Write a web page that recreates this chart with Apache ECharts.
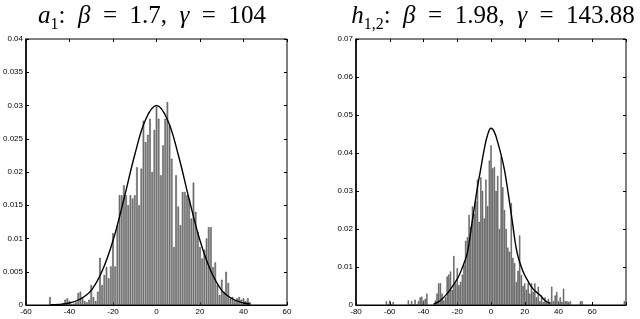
<!DOCTYPE html>
<html><head><meta charset="utf-8">
<script src="https://cdn.jsdelivr.net/npm/echarts@6/dist/echarts.min.js"></script>
<style>html,body{margin:0;padding:0;background:#fff}#c{width:640px;height:319px}</style>
</head><body><div id="c"></div>
<script>
// ---- Left panel (a1) histogram: bin centers and heights ----
const leftBins = [-49,-48,-47,-46,-45,-44,-43,-42,-41,-40,-39,-38,-37,-36,-35,-34,-33,-32,-31,-30,-29,-28,-27,-26,-25,-24,-23,-22,-21,-20,-19,-18,-17,-16,-15,-14,-13,-12,-11,-10,-9,-8,-7,-6,-5,-4,-3,-2,-1,0,1,2,3,4,5,6,7,8,9,10,11,12,13,14,15,16,17,18,19,20,21,22,23,24,25,26,27,28,29,30,31,32,33,34,35,36,37,38,39,40,41,42,43];
const leftHist = [0.0012,0,0,0,0,0,0.0003,0.0008,0.0010,0.0006,0,0.0002,0.0004,0.0018,0.0020,0.0010,0.0006,0.0004,0.0008,0.0030,0.0012,0.0006,0.0020,0.0071,0.0030,0.0045,0.0057,0.0040,0.0058,0.0108,0.0058,0.0120,0.0165,0.0165,0.0180,0.0165,0.0150,0.0165,0.0160,0.0165,0.0207,0.0150,0.0205,0.0277,0.0245,0.0256,0.0280,0.0200,0.0263,0.0298,0.0280,0.0195,0.0240,0.0280,0.0305,0.0270,0.0220,0.0087,0.0195,0.0148,0.0120,0.0170,0.0170,0.0165,0.0160,0.0130,0.0184,0.0140,0.0110,0.0087,0.0070,0.0083,0.0100,0.0117,0.0117,0.0057,0.0064,0.0030,0.0015,0.0038,0.0020,0.0050,0.0033,0.0010,0.0012,0.0008,0.0010,0.0012,0.0008,0.0010,0.0006,0.0010,0.0004];
// fitted curve
const leftCurveX = [-49,-45,-40,-35,-30,-25,-20,-15,-10,-5,0,5,10,15,20,25,30,35,40,43];
const leftCurveY = [0.00002,0.0001,0.0003,0.0009,0.0022,0.0051,0.0097,0.0159,0.0226,0.0279,0.0300,0.0279,0.0226,0.0159,0.0097,0.0051,0.0022,0.0009,0.0003,0.00015];

// ---- Right panel (h1,2) ----
const rightBins = [-62,-61,-60,-59,-58,-49,-48,-47,-46,-45,-44,-43,-42,-41,-40,-39,-38,-33,-32,-31,-30,-29,-28,-27,-26,-25,-24,-23,-22,-21,-20,-19,-18,-17,-16,-15,-14,-13,-12,-11,-10,-9,-8,-7,-6,-5,-4,-3,-2,-1,0,1,2,3,4,5,6,7,8,9,10,11,12,13,14,15,16,17,18,19,20,21,22,23,24,25,26,27,28,29,30,31,32,33,34,35,36,37,38,39,40,41,42,43,44,45,46,47,53,54,79];
const rightHist = [0.0010,0,0.0012,0,0.0008,0.0012,0,0.0010,0,0.0014,0,0.0010,0.0020,0.0022,0.0012,0.0016,0.0030,0.0012,0.0030,0.0057,0.0057,0.0030,0.0012,0.0020,0.0075,0.0080,0.0088,0.0040,0.0129,0.0057,0.0097,0.0052,0.0061,0.0080,0.0106,0.0169,0.0178,0.0237,0.0205,0.0259,0.0240,0.0273,0.0330,0.0219,0.0336,0.0300,0.0228,0.0330,0.0260,0.0380,0.0420,0.0360,0.0363,0.0300,0.0340,0.0200,0.0390,0.0310,0.0250,0.0200,0.0151,0.0140,0.0268,0.0124,0.0110,0.0060,0.0090,0.0183,0.0079,0.0050,0.0057,0.0040,0.0057,0.0030,0.0057,0.0035,0.0057,0.0020,0.0048,0.0010,0.0025,0.0008,0.0020,0.0010,0.0016,0.0008,0.0048,0.0010,0.0025,0.0034,0.0010,0.0020,0.0008,0.0043,0.0010,0.0010,0.0008,0.0010,0.0010,0.0010,0.0010];
const rightCurveX = [-34,-30,-26,-22,-19,-16,-14,-11,-8,-6,-4,-2,0,2,4,6,8,10,12.5,15.5,19,22,25,29,32,35];
const rightCurveY = [0.0002,0.0012,0.0030,0.0055,0.0077,0.0110,0.0137,0.0224,0.0310,0.0360,0.0410,0.0448,0.0465,0.0455,0.0428,0.0395,0.0355,0.0300,0.0224,0.0137,0.0088,0.0062,0.0042,0.0026,0.0012,0.0004];

// ---- axes / ticks ----
const leftXTicks = {min:-60, max:60, step:20};
const leftYTicks = {min:0, max:0.04, step:0.005};
const rightXTicks = {min:-80, max:80, step:20};
const rightYTicks = {min:0, max:0.07, step:0.01};

const zip = (a,b) => a.map((v,i)=>[v,b[i]]);
const chart = echarts.init(document.getElementById('c'), null, {renderer:'canvas'});
const SERIF = 'Liberation Serif';
const base = {fontFamily:SERIF,fontWeight:'normal',color:'#000',lineHeight:28,verticalAlign:'bottom'};
const titleRich = {
  i:Object.assign({fontStyle:'italic',fontSize:25},base),
  n:Object.assign({fontSize:25},base),
  s:Object.assign({fontSize:16,padding:[0,0,-4,0]},base)
};
const lab = {fontFamily:'Liberation Sans',fontSize:8,color:'#000'};
function fmtY(v){ return v===0?'0':String(+v.toFixed(3)); }
function xAx(g, t, hideMax){
  return [{gridIndex:g,type:'value',min:t.min,max:t.max,interval:t.step,
    axisLine:{show:true,onZero:false,lineStyle:{color:'#000',width:1.2}},
    axisTick:{inside:true,length:3,lineStyle:{color:'#000'}},
    axisLabel:Object.assign({margin:3,formatter:v=> (hideMax&&v===t.max)?'':String(v)},lab),
    splitLine:{show:false}},
   {gridIndex:g,type:'value',position:'top',min:t.min,max:t.max,interval:t.step,
    axisLine:{show:false,onZero:false},axisTick:{inside:true,length:3,lineStyle:{color:'#000'}},
    axisLabel:{show:false},splitLine:{show:false}}];
}
function yAx(g, t){
  return [{gridIndex:g,type:'value',min:t.min,max:t.max,interval:t.step,
    axisLine:{show:true,onZero:false,lineStyle:{color:'#000',width:1.5}},
    axisTick:{inside:true,length:3,lineStyle:{color:'#000'}},
    axisLabel:Object.assign({margin:3,formatter:fmtY},lab),
    splitLine:{show:false}},
   {gridIndex:g,type:'value',position:'right',min:t.min,max:t.max,interval:t.step,
    axisLine:{show:false,onZero:false},axisTick:{inside:true,length:3,lineStyle:{color:'#000'}},
    axisLabel:{show:false},splitLine:{show:false}}];
}
const barStyle = {color:'#9a9a9a',borderColor:'#111',borderWidth:0.4};
chart.setOption({
  animation:false,
  backgroundColor:'#fff',
  title:[
    {text:'{i|a}{s|1}{n|:  }{i|β}{n|  =  1.7,  }{i|γ}{n|  =  104}',left:147,top:-4,textAlign:'center',textStyle:{rich:titleRich}},
    {text:'{i|h}{s|1,2}{n|:  }{i|β}{n|  =  1.98,  }{i|γ}{n|  =  143.88}',left:488,top:-4,textAlign:'center',textStyle:{rich:titleRich}}
  ],
  grid:[
    {left:21,top:39,width:266,height:266,show:true,borderColor:'#000',borderWidth:1,backgroundColor:'transparent'},
    {left:356,top:39,width:270,height:266,show:true,borderColor:'#000',borderWidth:1,backgroundColor:'transparent'}
  ],
  xAxis:[...xAx(0,leftXTicks,false), ...xAx(1,rightXTicks,true)],
  yAxis:[...yAx(0,leftYTicks), ...yAx(1,rightYTicks)],
  series:[
    {type:'bar',xAxisIndex:0,yAxisIndex:0,barWidth:1.5,data:zip(leftBins,leftHist),itemStyle:barStyle},
    {type:'line',xAxisIndex:0,yAxisIndex:0,smooth:0.4,showSymbol:false,data:zip(leftCurveX,leftCurveY),lineStyle:{color:'#000',width:1.4}},
    {type:'bar',xAxisIndex:2,yAxisIndex:2,barWidth:1.2,data:zip(rightBins,rightHist),itemStyle:barStyle},
    {type:'line',xAxisIndex:2,yAxisIndex:2,smooth:0.4,showSymbol:false,data:zip(rightCurveX,rightCurveY),lineStyle:{color:'#000',width:1.4}}
  ]
});
</script></body></html>
